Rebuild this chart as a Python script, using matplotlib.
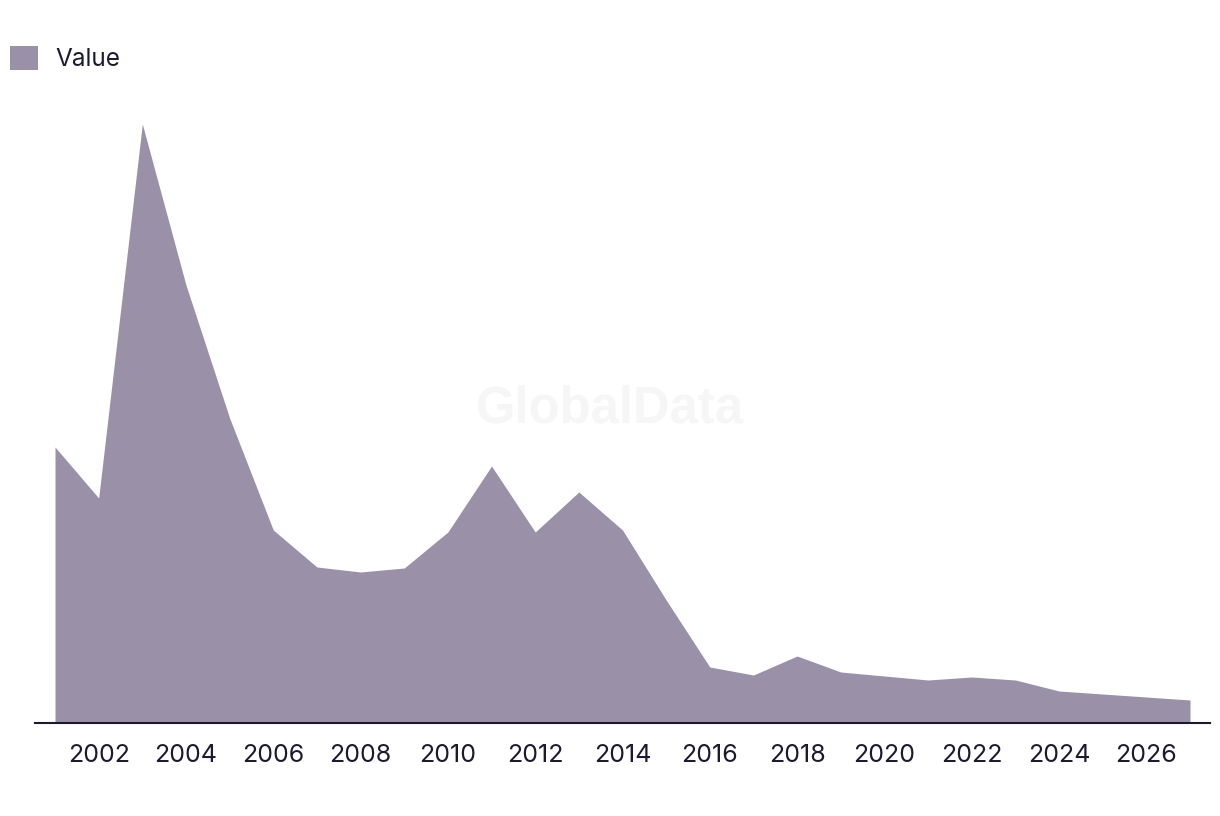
import matplotlib
matplotlib.use("Agg")
import matplotlib.pyplot as plt

years = list(range(2001, 2028))
values = [276, 225, 599, 438, 305, 193, 156, 151, 155, 191, 257, 191, 231, 193,
          123, 56, 48, 67, 51, 47, 43, 46, 43, 32, 29, 26, 23]
tick_years = list(range(2002, 2027, 2))
series_name = "Value"

W, H = 1220, 816
fig = plt.figure(figsize=(W / 100, H / 100), dpi=100)
plt.rcParams['font.family'] = ['Inter', 'DejaVu Sans']

ax_left, ax_right = 35, 1210
ax_bottom, ax_top = 723, 100
ax = fig.add_axes([ax_left / W, 1 - ax_bottom / H, (ax_right - ax_left) / W, (ax_bottom - ax_top) / H])

color = "#9a91a9"
text_color = "#1c1a33"
fill = ax.fill_between(years, values, 0, color=color, linewidth=0, label=series_name)

px_per_year = (1190 - 55) / 26
ax.set_xlim(2001 - (55 - ax_left) / px_per_year, 2027 + (ax_right - 1190) / px_per_year)
ax.set_ylim(0, 623)

for s in ['top', 'right', 'left']:
    ax.spines[s].set_visible(False)
ax.spines['bottom'].set_color(text_color)
ax.spines['bottom'].set_linewidth(1.5)
ax.set_yticks([])
ax.set_xticks(tick_years)
ax.set_xticklabels([str(y) for y in tick_years], fontsize=18, color=text_color)
ax.tick_params(axis='x', length=0, pad=15)

fig.text(610 / W, 1 - 409 / H, "GlobalData", ha='center', va='center',
         fontsize=36.5, fontweight='bold', color='#f6f6f6', family=['Liberation Sans'], zorder=0)

leg = fig.legend(handles=[fill], labels=[series_name], loc='upper left',
                 bbox_to_anchor=(10 / W, 1 - 46 / H), frameon=False,
                 borderpad=0, borderaxespad=0, fontsize=17.5,
                 handlelength=1.17, handleheight=1.17, handletextpad=0.7)
for t in leg.get_texts():
    t.set_color(text_color)

fig.savefig("out.png", dpi=100, facecolor='white')
